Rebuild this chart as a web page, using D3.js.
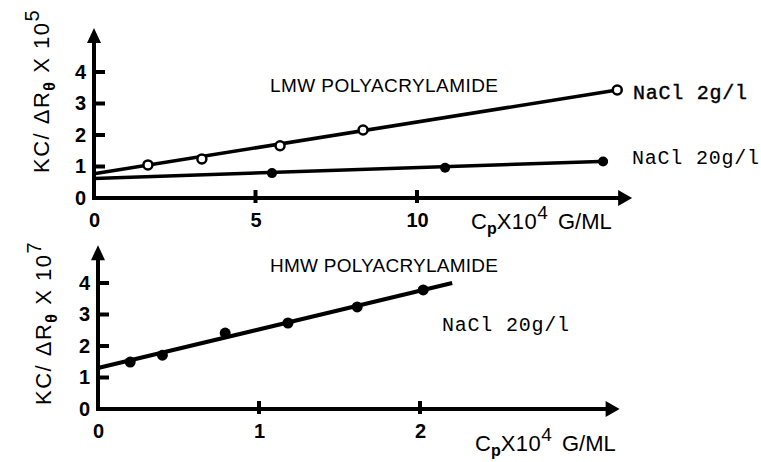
<!DOCTYPE html>
<html>
<head>
<meta charset="utf-8">
<script src="https://cdn.jsdelivr.net/npm/d3@7"></script>
<style>
  body { margin: 0; background: #fff; }
  svg { display: block; }
  .tick text { font-family: "Liberation Sans", Arial, sans-serif; font-weight: bold; font-size: 20px; fill: #000; }
</style>
</head>
<body>
<div id="chart"></div>
<script>
// --- data ---
// top panel: LMW polyacrylamide, KC/dR x 10^5 vs Cp x 10^4
var lmw2X = [1.67, 3.34, 5.76, 8.33, 16.2];
var lmw2Y = [1.05, 1.24, 1.66, 2.16, 3.43];
var lmw2Fit = [[0, 0.77], [16.2, 3.43]];

var lmw20X = [5.51, 10.87, 15.76];
var lmw20Y = [0.79, 0.96, 1.16];
var lmw20Fit = [[0, 0.62], [15.9, 1.17]];

var topXTicks = [0, 5, 10];
var topYTicks = [0, 1, 2, 3, 4];

// bottom panel: HMW polyacrylamide, KC/dR x 10^7
var hmwX = [0.20, 0.40, 0.79, 1.18, 1.61, 2.02];
var hmwY = [1.49, 1.71, 2.41, 2.73, 3.24, 3.78];
var hmwFit = [[0, 1.30], [2.2, 4.0]];

var botXTicks = [0, 1, 2];
var botYTicks = [0, 1, 2, 3, 4];

var svg = d3.select("#chart")
    .append("svg")
    .attr("width", 761)
    .attr("height", 462)

svg.append("rect").attr("width", 761).attr("height", 462).attr("fill", "#fff")

var sans = "'Liberation Sans', Arial, sans-serif";
var mono = "'Liberation Mono', 'Courier New', monospace";

// scales
var xTop = d3.scaleLinear().domain([0, 10]).range([94, 417]);
var yTop = d3.scaleLinear().domain([0, 4]).range([198, 72]);
var xBot = d3.scaleLinear().domain([0, 2]).range([98, 420]);
var yBot = d3.scaleLinear().domain([0, 4]).range([409, 283]);

var line = function(xs, ys) {
    return d3.line().x(function(d){ return xs(d[0]); }).y(function(d){ return ys(d[1]); });
}

function drawPanel(xs, ys, xTicks, yTicks, xMax, yMax) {
    var x0 = xs(0), y0 = ys(0), x1 = xs(xMax), y1 = ys(yMax);

    // axis lines with arrow heads
    svg.append("line").attr("x1", x0).attr("y1", y0).attr("x2", x1 - 8).attr("y2", y0)
        .attr("stroke", "#000").attr("stroke-width", 4)
    svg.append("line").attr("x1", x0).attr("y1", y0 + 2).attr("x2", x0).attr("y2", y1 + 8)
        .attr("stroke", "#000").attr("stroke-width", 4)
    svg.append("path").attr("d", "M" + x1 + "," + y0 + "L" + (x1 - 14) + "," + (y0 - 8) + "L" + (x1 - 14) + "," + (y0 + 8) + "Z")
        .attr("fill", "#000")
    svg.append("path").attr("d", "M" + x0 + "," + y1 + "L" + (x0 - 7) + "," + (y1 + 15) + "L" + (x0 + 7) + "," + (y1 + 15) + "Z")
        .attr("fill", "#000")

    // tick labels from d3 axes
    var ax = svg.append("g")
        .attr("transform", "translate(0," + y0 + ")")
        .call(d3.axisBottom(xs).tickValues(xTicks).tickFormat(d3.format("d")).tickSize(0).tickPadding(15))
    ax.select(".domain").remove()

    var ay = svg.append("g")
        .attr("transform", "translate(" + x0 + ",0)")
        .call(d3.axisLeft(ys).tickValues(yTicks).tickFormat(d3.format("d")).tickSize(0).tickPadding(8))
    ay.select(".domain").remove()

    // tick marks
    svg.append("g").selectAll("line")
        .data(xTicks.filter(function(d){ return d != 0; }))
        .enter()
        .append("line")
        .attr("x1", function(d){ return xs(d); }).attr("x2", function(d){ return xs(d); })
        .attr("y1", y0 - 8).attr("y2", y0 + 5)
        .attr("stroke", "#000").attr("stroke-width", 4)

    svg.append("g").selectAll("line")
        .data(yTicks.filter(function(d){ return d != 0; }))
        .enter()
        .append("line")
        .attr("x1", x0).attr("x2", x0 + 11)
        .attr("y1", function(d){ return ys(d); }).attr("y2", function(d){ return ys(d); })
        .attr("stroke", "#000").attr("stroke-width", 4)
}

drawPanel(xTop, yTop, topXTicks, topYTicks, 16.66, 5.4);
drawPanel(xBot, yBot, botXTicks, botYTicks, 3.24, 5.2);

// fitted lines
svg.append("path").datum(lmw2Fit).attr("d", line(xTop, yTop))
    .attr("fill", "none").attr("stroke", "#000").attr("stroke-width", 3.5)
svg.append("path").datum(lmw20Fit).attr("d", line(xTop, yTop))
    .attr("fill", "none").attr("stroke", "#000").attr("stroke-width", 3.5)
svg.append("path").datum(hmwFit).attr("d", line(xBot, yBot))
    .attr("fill", "none").attr("stroke", "#000").attr("stroke-width", 4)

// points
svg.append("g").selectAll("circle")
    .data(d3.zip(lmw2X, lmw2Y))
    .enter()
    .append("circle")
    .attr("cx", function(d){ return xTop(d[0]); })
    .attr("cy", function(d){ return yTop(d[1]); })
    .attr("r", 4.5)
    .attr("fill", "#fff").attr("stroke", "#000").attr("stroke-width", 2.5)

svg.append("g").selectAll("circle")
    .data(d3.zip(lmw20X, lmw20Y))
    .enter()
    .append("circle")
    .attr("cx", function(d){ return xTop(d[0]); })
    .attr("cy", function(d){ return yTop(d[1]); })
    .attr("r", 5)
    .attr("fill", "#000")

svg.append("g").selectAll("circle")
    .data(d3.zip(hmwX, hmwY))
    .enter()
    .append("circle")
    .attr("cx", function(d){ return xBot(d[0]); })
    .attr("cy", function(d){ return yBot(d[1]); })
    .attr("r", 5.5)
    .attr("fill", "#000")

// panel titles
svg.append("text").attr("x", 270).attr("y", 92)
    .attr("font-family", sans).attr("font-size", 19).attr("textLength", 228)
    .text("LMW POLYACRYLAMIDE")
svg.append("text").attr("x", 270).attr("y", 272)
    .attr("font-family", sans).attr("font-size", 19).attr("textLength", 228)
    .text("HMW POLYACRYLAMIDE")

// series labels (typewriter)
svg.append("text").attr("x", 633).attr("y", 99)
    .attr("font-family", mono).attr("font-size", 20).attr("stroke", "#000").attr("stroke-width", 0.4)
    .attr("textLength", 114)
    .text("NaCl 2g/l")
svg.append("text").attr("x", 632).attr("y", 164)
    .attr("font-family", mono).attr("font-size", 20).attr("textLength", 127)
    .text("NaCl 20g/l")
svg.append("text").attr("x", 442).attr("y", 331)
    .attr("font-family", mono).attr("font-size", 20).attr("textLength", 127)
    .text("NaCl 20g/l")

// x axis titles
function xTitle(x, y) {
    var t = svg.append("text").attr("x", x).attr("y", y)
        .attr("font-family", sans).attr("font-size", 22)
    t.append("tspan").text("C")
    t.append("tspan").attr("dy", 5).attr("font-size", 16).attr("font-weight", "bold").text("p")
    t.append("tspan").attr("dy", -5).attr("letter-spacing", 0.5).text("X10")
    t.append("tspan").attr("dy", -10).attr("font-size", 19).text("4")
    t.append("tspan").attr("dy", 10).attr("dx", 10).text("G/ML")
}
xTitle(471, 229);
xTitle(475, 451);

// y axis titles (rotated)
function yTitle(x, y, exp) {
    var t = svg.append("text")
        .attr("transform", "translate(" + x + "," + y + ") rotate(-90)")
        .attr("font-family", sans).attr("font-size", 22).attr("letter-spacing", 1.5)
    t.append("tspan").text("KC/ \u0394R")
    t.append("tspan").attr("dy", 6).attr("font-size", 16).attr("font-weight", "bold").text("\u03b8")
    t.append("tspan").attr("dy", -6).text(" X 10")
    t.append("tspan").attr("dy", -10).attr("font-size", 20).text(exp)
}
yTitle(49, 173, "5");
yTitle(51, 405, "7");
</script>
</body>
</html>
